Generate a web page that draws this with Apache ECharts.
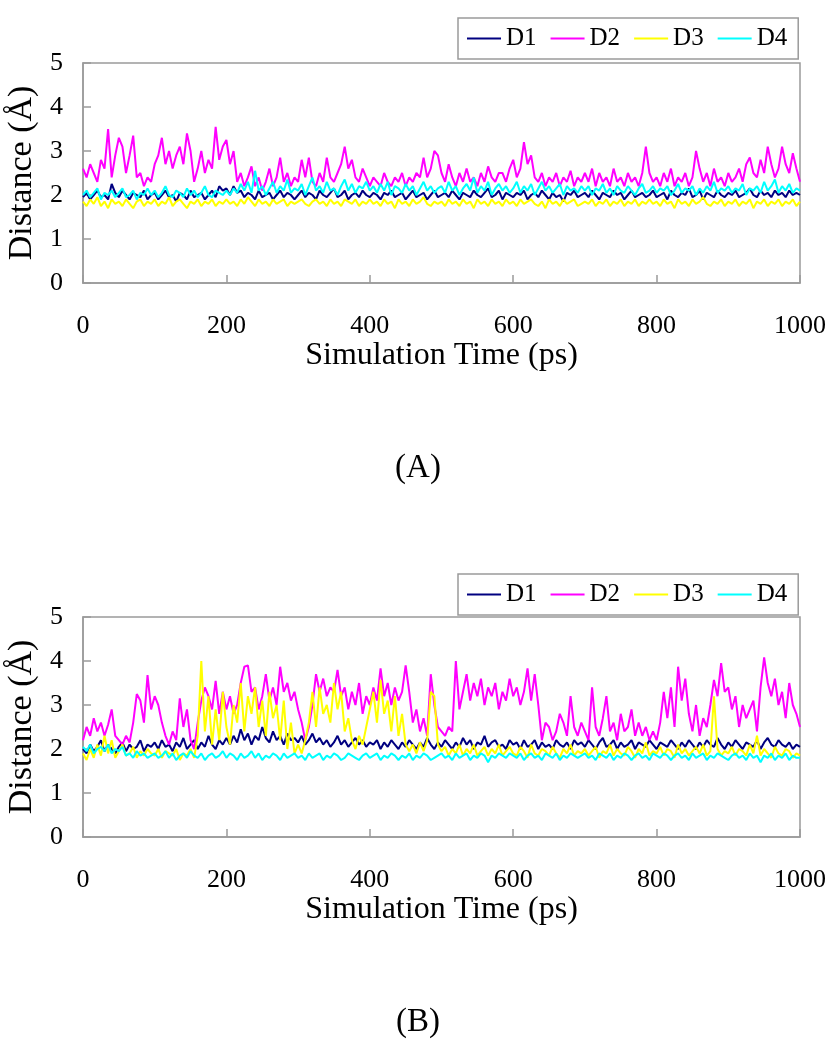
<!DOCTYPE html>
<html>
<head>
<meta charset="utf-8">
<script src="https://cdn.jsdelivr.net/npm/echarts@6/dist/echarts.min.js"></script>
<style>
html,body{margin:0;padding:0;background:#fff;}
#chart{width:837px;height:1050px;}
</style>
</head>
<body>
<div id="chart"></div>
<script>
// sampling step of the trajectories (ps)
var step = 5;
var names = ['D1', 'D2', 'D3', 'D4'];
var colors = ['#000080', '#ff00ff', '#ffff00', '#00ffff'];
var xTicks = [0, 200, 400, 600, 800, 1000];
var yTicks = [0, 1, 2, 3, 4, 5];

// panel (A)
var d1A = [
 1.95,2.05,1.9,2.0,2.1,1.95,2.0,1.9,2.25,2.05,1.95,2.1,2.0,1.9,2.05,2.0,1.95,2.1,1.9,2.0,
 2.05,1.9,2.0,2.1,1.95,2.0,1.85,2.05,2.0,1.9,2.1,1.95,2.0,2.05,1.9,2.0,2.1,1.95,2.2,2.1,
 2.15,2.0,2.2,2.05,2.1,1.95,2.05,2.0,1.9,2.1,1.95,2.0,2.05,1.9,2.0,2.1,1.95,2.05,2.0,1.9,
 2.0,2.1,1.95,2.05,2.0,1.9,2.1,2.0,1.95,2.05,2.15,1.95,2.0,2.1,1.9,2.0,2.05,1.95,2.1,2.0,
 1.95,2.05,2.0,1.9,2.05,2.0,2.1,1.95,2.0,2.05,1.9,2.0,2.1,1.95,2.0,2.05,1.9,2.0,2.1,1.95,
 2.0,2.05,1.95,2.1,2.0,1.9,2.05,2.0,1.95,2.1,2.0,1.95,2.05,2.15,1.95,2.0,2.1,1.9,2.05,2.0,
 1.95,2.05,2.0,2.1,1.9,2.0,2.05,1.95,2.1,2.0,1.9,2.05,1.95,2.0,1.85,2.05,2.0,2.1,1.95,2.0,
 2.05,1.95,2.1,2.0,1.9,2.05,2.0,1.95,2.1,2.0,2.05,1.9,2.0,2.1,1.95,2.0,2.05,1.95,2.0,2.1,
 1.95,2.0,2.05,1.9,2.1,2.0,1.95,2.05,2.0,2.15,1.95,2.0,2.1,1.9,2.05,2.0,1.95,2.1,2.0,1.95,
 2.05,2.0,2.1,1.95,2.0,2.05,2.15,2.0,1.95,2.1,2.0,2.05,1.95,2.1,2.0,2.05,1.95,2.1,2.0,2.05,
 2.0];
var d2A = [
 2.6,2.4,2.7,2.5,2.3,2.8,2.6,3.5,2.4,2.9,3.3,3.1,2.5,2.9,3.35,2.4,2.5,2.2,2.4,2.3,
 2.7,2.9,3.3,2.7,3.0,2.6,2.9,3.1,2.7,3.4,3.0,2.3,2.6,3.0,2.5,2.8,2.6,3.55,2.8,3.1,
 3.25,2.7,3.0,2.3,2.5,2.2,2.4,2.65,2.2,2.4,2.1,2.3,2.6,2.2,2.4,2.85,2.3,2.5,2.2,2.4,
 2.3,2.8,2.4,2.85,2.3,2.2,2.5,2.3,2.85,2.4,2.3,2.5,2.7,3.1,2.6,2.8,2.4,2.3,2.6,2.4,
 2.2,2.4,2.3,2.2,2.5,2.3,2.2,2.4,2.3,2.5,2.2,2.4,2.3,2.5,2.4,2.85,2.4,2.6,3.0,2.9,
 2.5,2.3,2.7,2.4,2.2,2.5,2.3,2.6,2.3,2.4,2.2,2.5,2.3,2.65,2.4,2.3,2.5,2.5,2.3,2.6,
 2.8,2.4,2.6,3.2,2.7,2.9,2.4,2.3,2.5,2.2,2.4,2.3,2.5,2.2,2.4,2.3,2.55,2.2,2.4,2.3,
 2.5,2.3,2.6,2.2,2.5,2.3,2.4,2.2,2.6,2.3,2.4,2.2,2.5,2.3,2.4,2.2,2.5,3.1,2.5,2.3,
 2.4,2.2,2.5,2.3,2.6,2.2,2.4,2.3,2.5,2.2,2.4,3.0,2.6,2.3,2.5,2.2,2.6,2.3,2.4,2.2,
 2.5,2.3,2.4,2.6,2.3,2.7,2.85,2.5,2.4,2.8,2.5,3.1,2.7,2.4,2.6,3.1,2.7,2.5,2.95,2.6,
 2.3];
var d3A = [
 1.85,1.75,1.9,1.8,1.95,1.75,1.85,1.7,1.9,1.8,1.85,1.75,1.9,1.8,1.7,1.85,1.9,1.75,1.85,1.8,
 1.9,1.75,1.85,1.8,1.95,1.75,1.85,1.9,1.8,1.7,1.85,1.8,1.9,1.75,1.85,1.8,1.9,1.75,1.85,1.8,
 1.9,1.8,1.85,1.75,1.9,1.8,1.95,1.85,1.75,1.9,1.8,1.85,1.75,1.9,1.8,1.85,1.9,1.75,1.85,1.8,
 1.85,1.9,1.8,1.75,1.85,1.9,1.8,1.85,1.75,1.9,1.8,1.85,1.75,1.9,1.85,1.8,1.9,1.75,1.85,1.8,
 1.9,1.8,1.85,1.75,1.9,1.8,1.85,1.7,1.9,1.8,1.85,1.75,1.9,1.8,1.85,1.95,1.8,1.75,1.85,1.8,
 1.85,1.75,1.9,1.8,1.85,1.75,1.9,1.8,1.85,1.7,1.9,1.8,1.85,1.75,1.9,1.8,1.85,1.75,1.9,1.8,
 1.85,1.75,1.9,1.8,1.85,1.9,1.8,1.75,1.85,1.7,1.9,1.8,1.85,1.75,1.9,1.8,1.85,1.9,1.75,1.8,
 1.85,1.8,1.9,1.75,1.85,1.8,1.9,1.75,1.85,1.8,1.9,1.75,1.85,1.8,1.9,1.75,1.85,1.8,1.9,1.8,
 1.85,1.75,1.9,1.8,1.85,1.7,1.9,1.8,1.85,1.75,1.9,1.8,1.85,1.95,1.8,1.75,1.85,1.8,1.9,1.75,
 1.85,1.8,1.9,1.75,1.85,1.8,1.9,1.7,1.85,1.8,1.9,1.75,1.85,1.8,1.9,1.75,1.85,1.8,1.9,1.75,
 1.85];
var d4A = [
 2.0,2.1,1.95,2.05,2.15,1.9,2.05,2.0,2.1,1.95,2.05,2.15,1.95,2.0,2.1,1.9,2.05,2.0,2.15,2.0,
 2.1,1.95,2.05,2.2,2.0,1.95,2.1,2.05,1.95,2.15,2.0,2.1,1.95,2.05,2.2,2.0,1.95,2.1,2.05,2.0,
 2.1,2.0,2.15,2.05,2.25,2.1,2.3,2.05,2.55,2.1,2.2,2.0,2.15,2.3,2.05,2.2,2.1,2.35,2.05,2.15,
 2.1,2.25,2.0,2.2,2.4,2.1,2.2,2.05,2.3,2.1,2.15,2.0,2.2,2.35,2.1,2.25,2.05,2.2,2.15,2.3,
 2.1,2.2,2.05,2.25,2.1,2.3,2.0,2.2,2.15,2.05,2.25,2.1,2.2,2.0,2.15,2.3,2.1,2.2,2.05,2.15,
 2.2,2.05,2.3,2.1,2.2,2.0,2.15,2.25,2.1,2.4,2.05,2.2,2.1,2.3,2.0,2.15,2.25,2.1,2.2,2.05,
 2.15,2.3,2.05,2.2,2.1,2.25,2.0,2.15,2.3,2.1,2.2,2.05,2.15,2.25,2.0,2.2,2.1,2.15,2.05,2.2,
 2.1,2.2,2.0,2.15,2.1,2.25,2.05,2.15,2.0,2.2,2.1,2.05,2.2,2.1,2.0,2.15,2.25,2.05,2.1,2.2,
 2.05,2.15,2.1,2.2,2.0,2.1,2.25,2.05,2.15,2.1,2.2,2.0,2.15,2.05,2.2,2.1,2.3,2.05,2.15,2.1,
 2.2,2.05,2.15,2.1,2.25,2.0,2.15,2.1,2.2,2.05,2.3,2.1,2.2,2.35,2.05,2.2,2.1,2.25,2.05,2.15,
 2.1];

// panel (B)
var d1B = [
 2.0,1.9,2.1,1.95,2.05,2.2,1.95,2.1,2.0,1.9,2.05,2.15,1.95,2.1,2.0,2.05,2.2,1.95,2.1,2.05,
 2.15,2.0,2.2,2.05,2.1,1.95,2.15,2.05,2.25,2.0,2.1,2.2,2.0,2.15,2.05,2.3,2.1,2.0,2.2,2.1,
 2.25,2.1,2.3,2.15,2.45,2.2,2.35,2.1,2.3,2.2,2.5,2.25,2.15,2.4,2.2,2.3,2.1,2.35,2.2,2.25,
 2.15,2.3,2.1,2.2,2.35,2.15,2.25,2.1,2.2,2.05,2.15,2.3,2.1,2.2,2.05,2.15,2.25,2.1,2.2,2.05,
 2.15,2.1,2.2,2.0,2.15,2.05,2.2,2.1,2.0,2.15,2.05,2.2,2.1,2.0,2.15,2.05,2.25,2.1,2.0,2.15,
 2.05,2.2,2.1,2.0,2.15,2.05,2.25,2.1,2.2,2.0,2.15,2.1,2.3,2.05,2.15,2.2,2.05,2.1,2.0,2.2,
 2.1,2.15,2.0,2.2,2.05,2.1,2.2,2.0,2.15,2.05,2.1,2.0,2.2,2.1,2.05,2.15,2.0,2.2,2.1,2.15,
 2.05,2.2,2.1,2.0,2.15,2.25,2.05,2.1,2.2,2.0,2.15,2.05,2.1,2.2,2.0,2.15,2.1,2.05,2.2,2.1,
 2.0,2.15,2.1,2.05,2.2,2.1,2.0,2.15,2.05,2.2,2.1,2.0,2.15,2.05,2.2,2.1,2.05,2.25,2.1,2.0,
 2.15,2.05,2.2,2.1,2.0,2.15,2.1,2.05,2.2,2.0,2.15,2.25,2.1,2.05,2.2,2.1,2.05,2.15,2.0,2.1,
 2.05];
var d2B = [
 2.2,2.5,2.3,2.7,2.4,2.6,2.3,2.55,2.9,2.3,2.2,2.1,2.3,2.15,2.6,3.25,3.1,2.6,3.68,2.9,
 3.2,3.0,2.6,2.3,2.1,2.4,2.2,3.15,2.5,2.9,2.2,2.0,2.6,3.1,3.4,3.2,2.9,3.55,2.8,3.3,
 2.9,3.2,2.8,3.0,3.5,3.87,3.9,3.3,3.4,2.9,3.2,3.7,3.1,3.4,3.0,3.87,3.3,3.5,3.1,3.3,
 2.9,2.6,2.2,2.5,3.0,3.7,3.3,3.6,3.2,3.4,3.3,3.8,3.2,3.4,2.9,3.3,3.0,3.5,2.8,3.2,
 3.0,3.4,3.1,3.83,3.2,3.5,3.0,3.4,3.1,3.3,3.9,3.3,2.6,2.9,2.4,2.7,2.3,3.7,3.0,2.5,
 2.4,2.3,2.5,2.4,4.0,2.9,3.3,3.7,3.1,3.5,3.2,3.6,3.0,3.4,3.2,3.5,2.9,3.3,3.1,3.6,
 3.2,3.4,3.0,3.3,3.83,3.1,3.7,3.0,2.2,2.6,2.5,2.2,2.4,2.8,2.6,2.3,3.2,2.5,2.3,2.6,
 2.4,2.2,3.4,2.5,2.3,2.7,3.2,2.4,2.6,2.2,2.8,2.4,2.5,2.9,2.3,2.6,2.3,2.5,2.2,2.4,
 2.2,2.6,3.3,2.7,3.4,2.5,3.87,3.1,3.6,2.8,2.4,3.0,2.3,2.7,2.5,3.0,3.57,3.2,3.95,3.3,
 3.4,2.9,3.2,2.5,3.0,2.7,2.9,3.1,2.4,3.4,4.08,3.5,3.2,3.6,3.0,3.3,2.7,3.5,3.0,2.8,
 2.5];
var d3B = [
 1.9,1.75,2.0,1.8,2.1,1.85,2.3,1.9,2.2,1.8,1.95,2.1,1.85,1.9,2.05,1.8,1.95,1.85,2.0,1.9,
 1.85,2.0,1.8,1.95,1.9,1.85,2.0,1.75,1.9,1.85,2.0,1.8,2.3,4.0,2.4,3.2,2.1,2.9,2.2,3.3,
 2.5,2.1,3.0,2.6,3.5,2.4,3.2,2.8,3.4,2.5,3.1,2.3,3.3,2.7,3.0,2.2,3.1,2.0,2.6,1.9,
 2.1,1.9,2.2,2.6,3.3,2.5,3.4,2.8,3.0,2.6,3.5,2.9,3.3,2.4,2.7,2.2,2.0,2.3,2.1,2.5,
 2.9,3.3,2.6,3.57,2.8,3.1,2.4,3.2,2.3,2.8,2.1,1.95,2.1,1.9,2.15,1.95,2.2,3.3,3.2,2.1,
 1.95,2.05,1.85,2.0,1.9,2.1,1.85,2.0,1.9,2.1,1.85,1.95,2.05,1.85,2.0,1.9,2.1,1.85,1.95,2.05,
 1.9,1.85,2.05,1.95,1.8,2.1,1.9,1.85,2.0,1.95,1.85,2.05,1.9,1.8,2.0,1.9,2.1,1.85,1.95,1.9,
 2.0,1.85,1.95,2.05,1.8,1.95,1.9,2.1,1.85,2.0,1.9,1.85,2.05,1.95,1.8,2.0,1.9,2.15,1.85,1.95,
 1.9,2.05,1.85,2.0,1.95,1.8,2.1,1.9,2.0,1.85,1.95,2.05,1.9,2.1,1.85,1.95,3.2,2.0,1.85,1.95,
 1.9,2.05,1.85,2.0,1.95,1.85,2.1,1.9,2.3,1.85,2.0,1.9,1.8,2.05,1.9,1.85,2.0,1.95,1.8,1.9,
 1.85];
var d4B = [
 2.05,1.95,2.1,1.9,2.0,2.05,1.95,2.1,1.9,2.0,1.95,2.05,1.85,1.9,1.8,1.95,1.85,1.9,1.8,1.85,
 1.9,1.8,1.85,1.95,1.8,1.9,1.75,1.85,1.9,1.8,1.95,1.85,1.8,1.9,1.75,1.85,1.9,1.8,1.85,1.95,
 1.8,1.9,1.85,1.75,1.9,1.8,1.85,1.95,1.8,1.9,1.75,1.85,1.8,1.9,1.85,1.75,1.9,1.8,1.85,1.9,
 1.8,1.85,1.75,1.9,1.8,1.85,1.9,1.75,1.85,1.8,1.9,1.85,1.75,1.8,1.9,1.85,1.8,1.75,1.85,1.9,
 1.8,1.85,1.9,1.75,1.85,1.8,1.9,1.85,1.75,1.85,1.8,1.9,1.75,1.85,1.8,1.9,1.85,1.75,1.8,1.85,
 1.9,1.8,1.85,1.75,1.9,1.8,1.85,1.9,1.75,1.85,1.8,1.9,1.85,1.7,1.85,1.8,1.9,1.85,1.8,1.9,
 1.85,1.8,1.9,1.75,1.85,1.9,1.8,1.85,1.75,1.9,1.85,1.8,1.9,1.75,1.85,1.8,1.9,1.85,1.8,1.85,
 1.9,1.8,1.85,1.75,1.9,1.85,1.8,1.9,1.75,1.85,1.8,1.9,1.85,1.75,1.85,1.9,1.8,1.85,1.75,1.9,
 1.85,1.8,1.9,1.85,1.75,1.85,1.9,1.8,1.85,1.75,1.9,1.8,1.85,1.9,1.75,1.85,1.8,1.9,1.85,1.8,
 1.75,1.85,1.9,1.8,1.85,1.75,1.9,1.8,1.85,1.7,1.85,1.8,1.9,1.75,1.85,1.8,1.9,1.75,1.85,1.8,
 1.8];

var panelA = [d1A, d2A, d3A, d4A];
var panelB = [d1B, d2B, d3B, d4B];

var serif = 'Liberation Serif';
var frame = '#9a9a9a';

function pairs(arr) {
	return arr.map(function(v, i) { return [i * step, v]; });
}

function makeX(idx) {
	return {
		type: 'value', gridIndex: idx,
		min: xTicks[0], max: xTicks[xTicks.length - 1], interval: 200,
		name: 'Simulation Time (ps)', nameLocation: 'middle', nameGap: 57,
		nameTextStyle: { fontFamily: serif, fontSize: 32, color: '#000' },
		axisLine: { onZero: false, lineStyle: { color: frame, width: 1.5 } },
		axisTick: { inside: true, length: 8, lineStyle: { color: frame, width: 1.5 } },
		axisLabel: { margin: 30, fontFamily: serif, fontSize: 26, color: '#000',
			formatter: function(v) { return String(v); } },
		splitLine: { show: false }
	};
}

function makeY(idx) {
	return {
		type: 'value', gridIndex: idx,
		min: yTicks[0], max: yTicks[yTicks.length - 1], interval: 1,
		name: 'Distance (Å)', nameLocation: 'middle', nameGap: 40,
		nameTextStyle: { fontFamily: serif, fontSize: 34, color: '#000' },
		axisLine: { show: true, lineStyle: { color: frame, width: 1.5 } },
		axisTick: { show: true, inside: true, length: 8, lineStyle: { color: frame, width: 1.5 } },
		axisLabel: { margin: 20, fontFamily: serif, fontSize: 26, color: '#000' },
		splitLine: { show: false }
	};
}

function makeLegend(top) {
	return {
		data: names, left: 458, top: top,
		orient: 'horizontal',
		icon: 'rect',
		itemWidth: 34, itemHeight: 2, itemGap: 14,
		padding: [8, 11, 8, 9],
		borderColor: frame, borderWidth: 1.5,
		textStyle: { fontFamily: serif, fontSize: 25, color: '#000' }
	};
}

function makeGrid(top) {
	return {
		left: 83, top: top, width: 717, height: 220,
		containLabel: false, outerBoundsMode: 'none',
		show: true, borderColor: frame, borderWidth: 1.5
	};
}

var series = [];
[panelA, panelB].forEach(function(panel, p) {
	panel.forEach(function(arr, k) {
		series.push({
			name: names[k], type: 'line',
			xAxisIndex: p, yAxisIndex: p,
			data: pairs(arr),
			symbol: 'none', animation: false,
			lineStyle: { color: colors[k], width: 2 },
			itemStyle: { color: colors[k] }
		});
	});
});

var chart = echarts.init(document.getElementById('chart'));
chart.setOption({
	backgroundColor: '#fff',
	animation: false,
	grid: [makeGrid(63), makeGrid(617)],
	legend: [makeLegend(18), makeLegend(574)],
	xAxis: [makeX(0), makeX(1)],
	yAxis: [makeY(0), makeY(1)],
	series: series,
	graphic: [
		{ type: 'text', x: 418, y: 468, style: { text: '(A)', fontFamily: serif, fontSize: 33, fill: '#000', align: 'center', verticalAlign: 'middle' } },
		{ type: 'text', x: 418, y: 1022, style: { text: '(B)', fontFamily: serif, fontSize: 33, fill: '#000', align: 'center', verticalAlign: 'middle' } }
	]
});
</script>
</body>
</html>
